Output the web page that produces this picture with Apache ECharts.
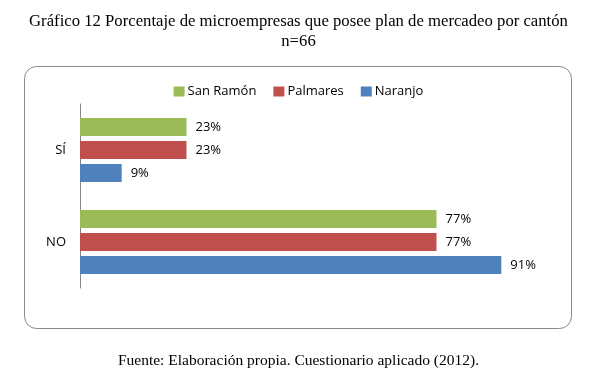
<!DOCTYPE html>
<html><head><meta charset="utf-8">
<script src="https://cdn.jsdelivr.net/npm/echarts@6/dist/echarts.min.js"></script>
<style>html,body{margin:0;padding:0;background:#fff}#c{width:597px;height:373px}</style>
</head><body><div id="c"></div>
<script>
const categories = ['SÍ', 'NO'];
const seriesNames = ['San Ramón', 'Palmares', 'Naranjo'];
const sanRamon = [23, 77];
const palmares = [23, 77];
const naranjo = [9, 91];
const colors = ['#9BBB59', '#C0504D', '#4F81BD'];
const values = [sanRamon, palmares, naranjo];

const chart = echarts.init(document.getElementById('c'));
chart.setOption({
  animation: false,
  title: [
    {text: 'Gráfico 12 Porcentaje de microempresas que posee plan de mercadeo por cantón\nn=66', left: 'center', top: 7,
     textStyle: {fontFamily: 'Liberation Serif', fontSize: 16.7, fontWeight: 'normal', color: '#000', lineHeight: 20}},
    {text: 'Fuente: Elaboración propia. Cuestionario aplicado (2012).', left: 'center', top: 348,
     textStyle: {fontFamily: 'Liberation Serif', fontSize: 15.5, fontWeight: 'normal', color: '#000'}}
  ],
  graphic: [{type: 'rect', shape: {x: 24.5, y: 66.5, width: 547, height: 262, r: 12},
    style: {fill: 'none', stroke: '#8a8a8a', lineWidth: 1}, z: -1}],
  legend: {top: 80, left: 'center', itemWidth: 11, itemHeight: 10, itemGap: 17, icon: 'rect',
    textStyle: {fontFamily: 'Open Sans', fontSize: 13, color: '#000', padding: [0, 0, 0, -2]}, data: seriesNames},
  grid: {left: 80, top: 104, width: 463, height: 184, containLabel: false},
  xAxis: {type: 'value', min: 0, max: 100, show: false},
  yAxis: {type: 'category', data: categories, inverse: true,
    axisLine: {lineStyle: {color: '#868686'}}, axisTick: {show: false},
    axisLabel: {fontFamily: 'Open Sans', fontSize: 13, color: '#000', margin: 14}},
  series: seriesNames.map((n, i) => ({
    name: n, type: 'bar', data: values[i], barWidth: 18, barGap: '28%',
    itemStyle: {color: colors[i]},
    label: {show: true, position: 'right', distance: 9, formatter: '{c}%',
      fontFamily: 'Open Sans', fontSize: 13, color: '#000'}
  }))
});
</script></body></html>
